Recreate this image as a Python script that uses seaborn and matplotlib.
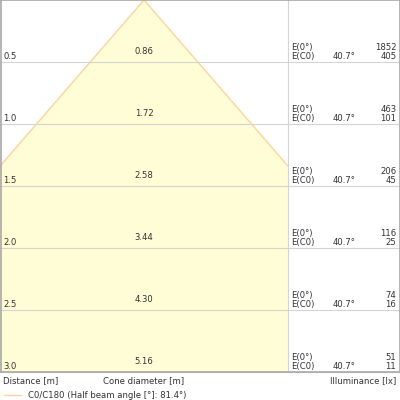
import numpy as np
import matplotlib
matplotlib.use("Agg")
import matplotlib.pyplot as plt
from matplotlib.patches import Rectangle
import seaborn as sns

# values
distances = [0.5, 1.0, 1.5, 2.0, 2.5, 3.0]
cone_diam = [0.86, 1.72, 2.58, 3.44, 4.30, 5.16]
e_center = [1852, 463, 206, 116, 74, 51]
e_c0 = [405, 101, 45, 25, 16, 11]
half_angle_label = "40.7°"
legend_label = "C0/C180 (Half beam angle [°]: 81.4°)"

sns.set_style("white")
plt.rcParams["font.family"] = ["DejaVu Sans"]

fill_col = "#fffdd6"
line_col = "#fbd3a0"
grid_col = "#d4d4d4"
frame_col = "#a8a8a8"
txt_col = "#333333"
fs = 6.1

fig = plt.figure(figsize=(4, 4), dpi=100)
ax = fig.add_axes([0, 28 / 400, 1, 372 / 400])

# plot area spans 288 px at 125 px per metre
xmax = 288 / 2 / 125
xright = -xmax + 400 / 125
ax.set_xlim(-xmax, xright)
ax.set_ylim(3.0, 0)
ax.axis("off")

d = np.array([0.0] + distances)
half = np.array([0.0] + [c / 2 for c in cone_diam])

clip = Rectangle((-xmax, 0), 2 * xmax, 3.0, transform=ax.transData, fill=False, lw=0)
ax.add_patch(clip)

poly = ax.fill_betweenx(d, -half, half, color=fill_col, lw=0, zorder=1)
poly.set_clip_path(clip)
sns.lineplot(x=half, y=d, sort=False, estimator=None, color=line_col, lw=1, ax=ax, zorder=2)
sns.lineplot(x=-half, y=d, sort=False, estimator=None, color=line_col, lw=1, ax=ax, zorder=2)
for ln in ax.lines:
    ln.set_clip_path(clip)

for dist in distances:
    ax.plot([-xmax, xright], [dist, dist], color=grid_col, lw=0.8, zorder=3, clip_on=False)
ax.plot([xmax, xmax], [0, 3.0], color=grid_col, lw=0.8, zorder=3)

# frame
ax.plot([-xmax + 0.004, -xmax + 0.004], [0, 3.0], color=frame_col, lw=1.2, zorder=4, clip_on=False)
ax.plot([-xmax, xright], [0.003, 0.003], color=frame_col, lw=1.2, zorder=4, clip_on=False)
ax.plot([xright - 0.004, xright - 0.004], [0, 3.0], color=frame_col, lw=1.2, zorder=4, clip_on=False)
ax.plot([-xmax, xright], [3.0, 3.0], color=frame_col, lw=1.2, zorder=4, clip_on=False)

for dist, c, e0, ec in zip(distances, cone_diam, e_center, e_c0):
    ax.text(-xmax + 0.025, dist - 0.012, f"{dist:.1f}", fontsize=fs, color=txt_col, va="bottom", ha="left", zorder=5)
    ax.text(0, dist - 0.045, f"{c:.2f}", fontsize=fs, color=txt_col, va="bottom", ha="center", zorder=5)
    ax.text(xmax + 0.025, dist - 0.08, "E(0°)", fontsize=fs, color=txt_col, va="bottom", ha="left", zorder=5)
    ax.text(xmax + 0.025, dist - 0.012, "E(C0)", fontsize=fs, color=txt_col, va="bottom", ha="left", zorder=5)
    ax.text(1.6, dist - 0.012, half_angle_label, fontsize=fs, color=txt_col, va="bottom", ha="center", zorder=5)
    ax.text(xright - 0.03, dist - 0.08, str(e0), fontsize=fs, color=txt_col, va="bottom", ha="right", zorder=5)
    ax.text(xright - 0.03, dist - 0.012, str(ec), fontsize=fs, color=txt_col, va="bottom", ha="right", zorder=5)

fig.text(3 / 400, 1 - 381 / 400, "Distance [m]", fontsize=fs, color=txt_col, va="center", ha="left")
fig.text(144 / 400, 1 - 381 / 400, "Cone diameter [m]", fontsize=fs, color=txt_col, va="center", ha="center")
fig.text(396 / 400, 1 - 381 / 400, "Illuminance [lx]", fontsize=fs, color=txt_col, va="center", ha="right")

fig.add_artist(plt.Line2D([4 / 400, 21 / 400], [1 - 395 / 400, 1 - 395 / 400], color=line_col, lw=1))
fig.text(28 / 400, 1 - 395 / 400, legend_label, fontsize=fs, color=txt_col, va="center", ha="left")

fig.savefig("out.png", dpi=100)
